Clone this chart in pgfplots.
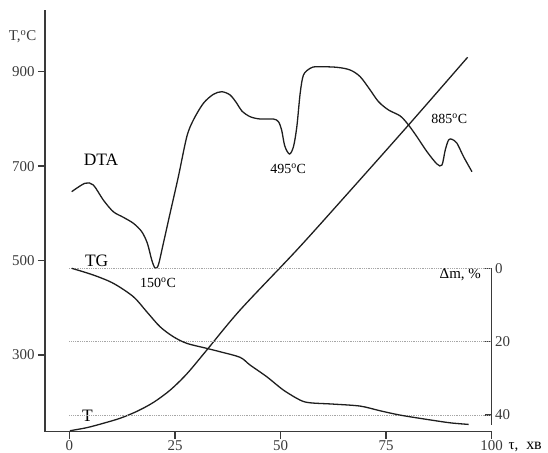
\documentclass[border=0pt]{standalone}
\usepackage{fontspec}
\setmainfont{Liberation Serif}
\usepackage{pgfplots}
\pgfplotsset{compat=1.18}
\definecolor{crv}{HTML}{1E1E1E}
\definecolor{axc}{HTML}{3A3A3A}
\begin{document}
\begin{tikzpicture}
\useasboundingbox (-45bp,-21.3bp) rectangle (503bp,431.7bp);
\begin{axis}[
  at={(0,0)}, anchor=south west,
  scale only axis, width=446.6bp, height=421.7bp,
  xmin=-5.8, xmax=100, ymin=137.6, ymax=1030.7,
  axis lines=left, axis line style={-, axc, line width=1.4bp},
  tick align=outside, major tick length=7bp,
  tick style={axc, line width=1.3bp},
  xtick={0,25,50,75,100}, ytick={300,500,700,900},
  /pgf/number format/assume math mode=true,
  tick label style={font=\fontsize{15}{15}\selectfont, text=axc},
  xticklabel style={yshift=1.5bp},
  clip=false,
]
% T curve
\addplot[crv, line width=1.3bp, smooth] coordinates {
(0.12,139.7) (4.08,146.1) (8.01,155.4) (11.97,166.0) (15.93,180.5)
(19.87,199.5) (23.83,225.5) (27.79,260.0) (32.3,308.0) (40.42,395.3)
(53.86,522.4) (64.53,628.3) (80.32,787.1) (94.31,930.5)};
% DTA curve
\addplot[crv, line width=1.3bp, smooth] coordinates {
(0.52,645.9) (3.67,663.7) (5.64,660.1) (8.01,628.3) (10.38,603.5)
(12.75,591.7) (15.13,579.0) (17.12,561.2) (18.45,536.6) (19.49,501.2)
(20.27,484.3) (21.05,490.6) (22.24,536.6) (23.83,600.1) (25.79,677.6)
(27.79,762.3) (29.35,797.7) (31.72,833.1) (34.09,852.1) (36.08,857.6)
(38.05,850.7) (39.64,833.1) (40.83,816.8) (42.79,804.7) (45.16,799.8)
(48.32,799.8) (49.50,794.1) (50.26,776.5) (51.0,742.7) (52.11,725.7)
(53.06,741.2) (53.86,783.5) (54.65,854.3) (55.43,893.0) (57.02,907.2)
(58.61,910.6) (63.35,909.3) (66.50,903.6) (68.87,889.4) (71.24,861.2)
(73.21,836.5) (75.58,818.9) (78.36,806.2) (80.32,787.1) (82.31,762.3)
(84.69,730.6) (87.06,704.5) (88.24,702.4) (89.02,734.2) (89.81,755.4)
(90.61,756.8) (91.80,748.4) (93.36,720.0) (95.35,688.2)};
\node[font=\fontsize{15}{15}\selectfont, text=axc] at (axis cs:-11.1,974.5) {T,\textsuperscript{o}C};
\node[font=\fontsize{17.5}{17.5}\selectfont] at (axis cs:7.47,713.0) {DTA};
\node[font=\fontsize{17.5}{17.5}\selectfont] at (axis cs:6.45,499.1) {TG};
\node[font=\fontsize{17.5}{17.5}\selectfont] at (axis cs:4.27,170.9) {T};
\node[font=\fontsize{14}{14}\selectfont] at (axis cs:20.98,452.5) {150\textsuperscript{o}C};
\node[font=\fontsize{14}{14}\selectfont] at (axis cs:51.8,693.9) {495\textsuperscript{o}C};
\node[font=\fontsize{14}{14}\selectfont] at (axis cs:89.97,799.8) {885\textsuperscript{o}C};
\node[font=\fontsize{15}{15}\selectfont] at (axis cs:92.58,469.5) {Δm, \%};
\node[font=\fontsize{15}{15}\selectfont, anchor=west, inner xsep=0pt] at (axis cs:103.96,105.5) {τ,\hspace{8bp}{\fontsize{16}{16}\selectfont хв}};
\end{axis}
\begin{axis}[
  at={(0,6.7bp)}, anchor=south west,
  scale only axis, width=446.6bp, height=156.7bp,
  xmin=-5.8, xmax=100, ymin=0, ymax=42.7, y dir=reverse,
  axis x line=none, axis y line*=right,
  axis line style={-, axc, line width=1.4bp},
  tick align=inside, major tick length=7bp,
  tick style={axc, line width=1.3bp},
  ytick={0,20,40},
  /pgf/number format/assume math mode=true,
  tick label style={font=\fontsize{15}{15}\selectfont, text=axc},
  clip=false,
]
\draw[gray!70, densely dotted, line width=0.8bp] (axis cs:0,0) -- (axis cs:100,0);
\draw[gray!70, densely dotted, line width=0.8bp] (axis cs:0,20) -- (axis cs:100,20);
\draw[gray!70, densely dotted, line width=0.8bp] (axis cs:0,40) -- (axis cs:100,40);
% TG curve
\addplot[crv, line width=1.3bp, smooth] coordinates {
(0.52,0) (5.64,1.83) (10.38,4.09) (15.13,7.74) (18.30,11.84)
(21.46,15.93) (24.61,18.65) (27.79,20.45) (32.53,21.82) (35.68,22.74)
(40.42,24.27) (42.79,26.37) (46.75,29.56) (50.69,33.19) (54.65,35.92)
(57.02,36.65) (62.54,37.01) (68.87,37.55) (73.61,38.83) (78.36,40.01)
(84.69,41.18) (90.21,42.11) (94.55,42.54)};
\end{axis}
\end{tikzpicture}
\end{document}
